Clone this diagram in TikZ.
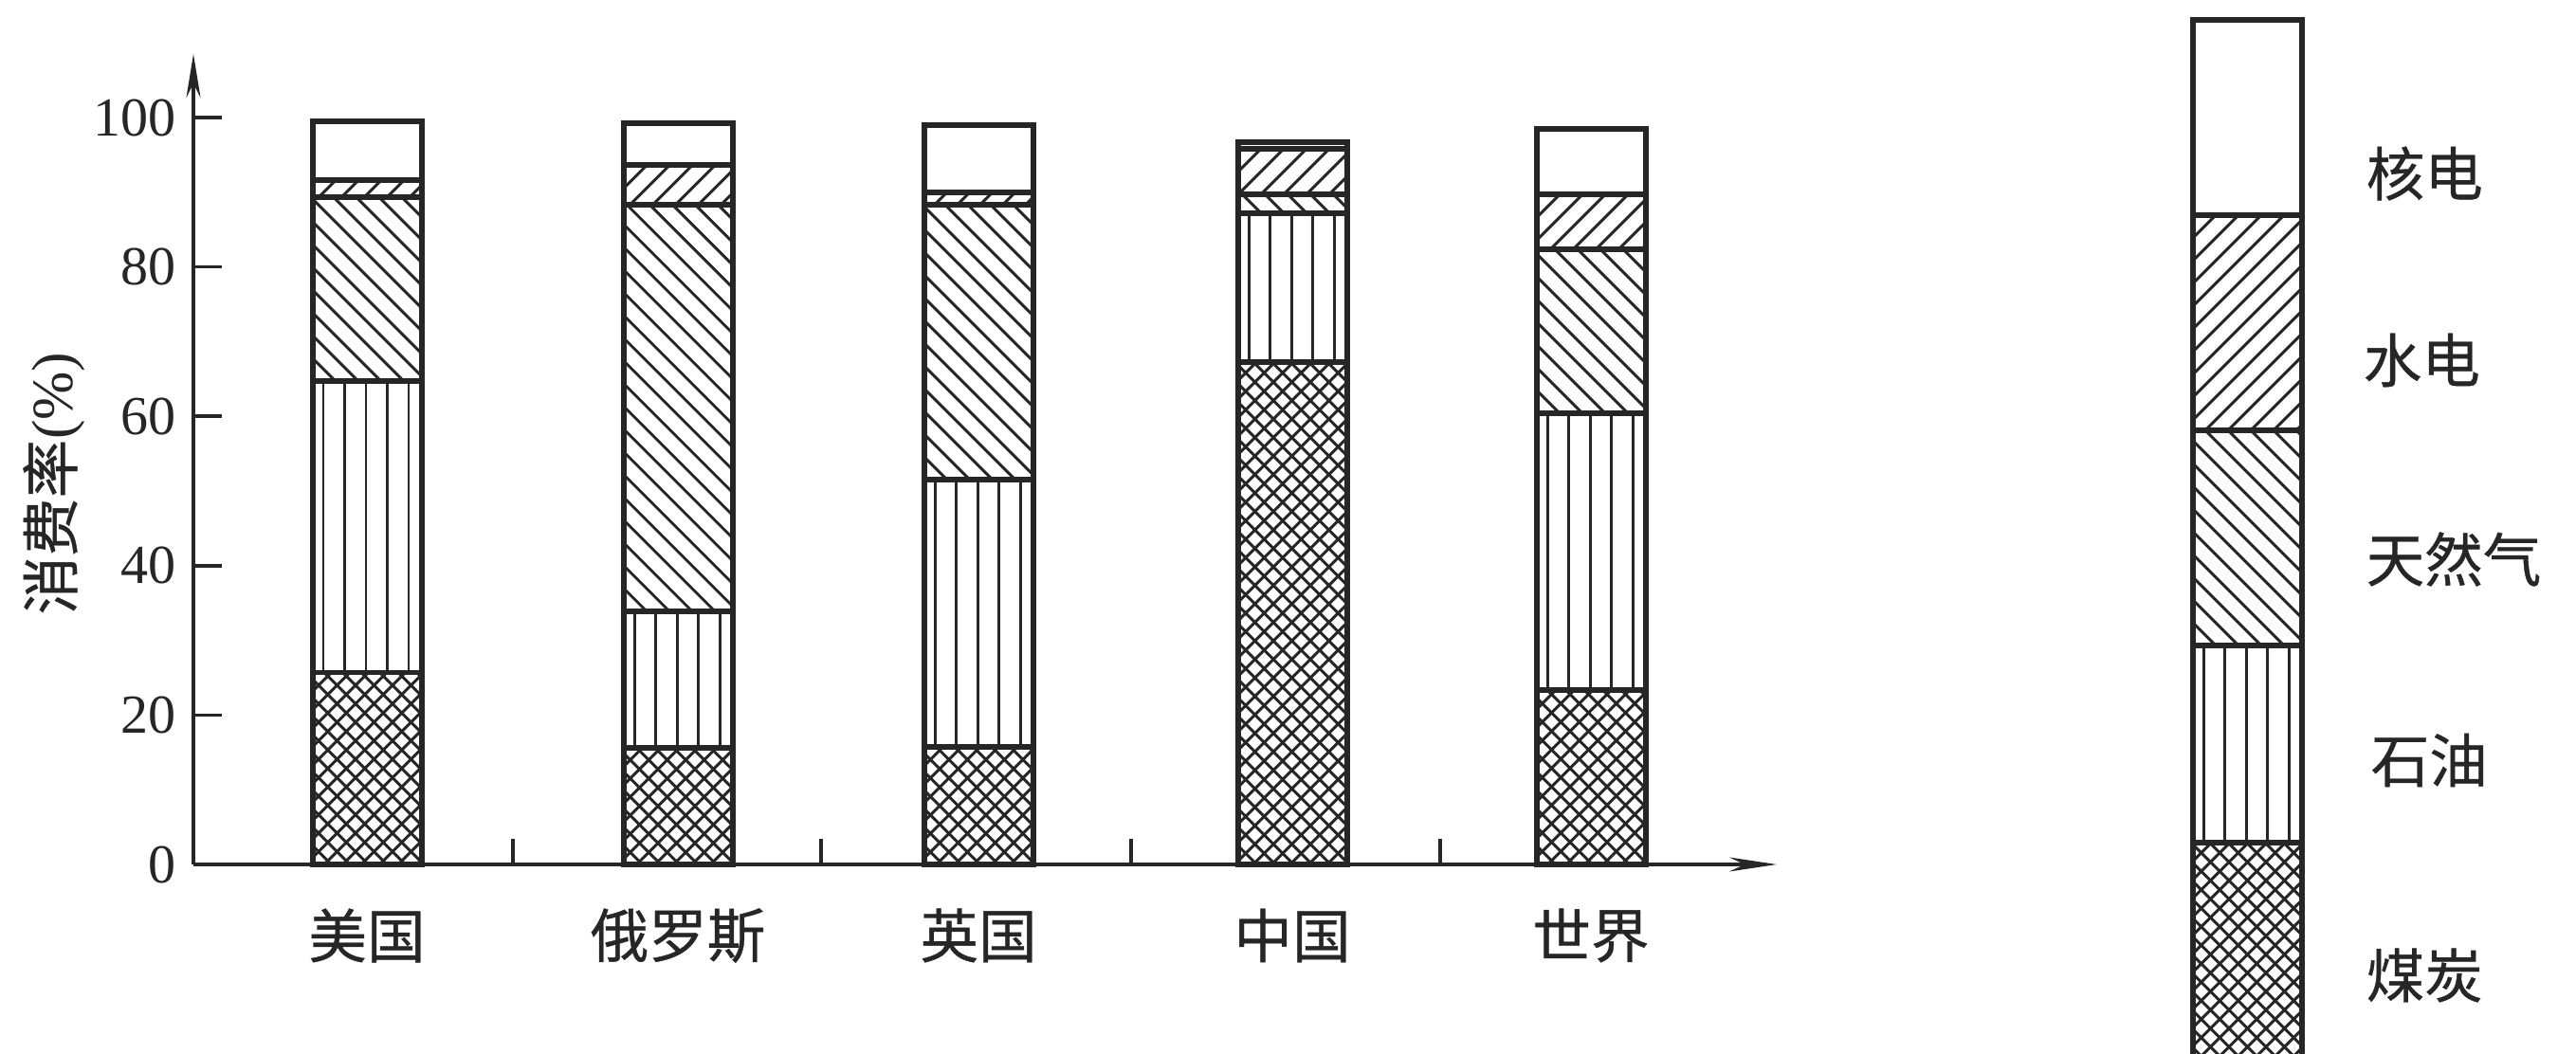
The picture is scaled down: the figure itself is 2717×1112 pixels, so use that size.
\documentclass[tikz,border=0pt]{standalone}
\usepackage{fontspec}
\setmainfont{Liberation Serif}
\newfontfamily\cjk{Noto Sans CJK SC}[FakeBold=0.6]
\usetikzlibrary{arrows.meta}

\def\barw{115}
% diagonal hatch: #1 x, #2 y top, #3 y bottom, #4 period, #5 direction (1 = \, -1 = /)
\newcommand\diagfill[5]{%
  \begin{scope}
    \clip (#1,#2) rectangle ({#1+\barw},#3);
    \pgfmathsetmacro\segh{#3-#2}
    \pgfmathtruncatemacro\nlines{(\barw+\segh)/#4+1}
    \foreach \k in {0,...,\nlines}
      \draw[hatch] ({#1-\segh+\k*#4},{(#2+#3)/2-(#5)*\segh/2}) -- ++(\segh,{(#5)*\segh});
  \end{scope}}
% vertical hatch
\newcommand\vertfill[3]{%
  \foreach \k in {0,...,4}
    \draw[hatch] ({#1+11+\k*22.5},#2) -- ({#1+11+\k*22.5},#3);}
\newcommand\coalfill[3]{\diagfill{#1}{#2}{#3}{19.5}{1}\diagfill{#1}{#2}{#3}{19.5}{-1}}
\newcommand\gasfill[3]{\diagfill{#1}{#2}{#3}{24}{1}}
\newcommand\hydrofill[3]{\diagfill{#1}{#2}{#3}{24}{-1}}
% one bar: #1 x, then cumulative tops in %: coal, oil, gas, hydro, total
\newcommand\energybar[6]{%
  \pgfmathsetmacro\yc{912-7.88*#2}
  \pgfmathsetmacro\yo{912-7.88*#3}
  \pgfmathsetmacro\yg{912-7.88*#4}
  \pgfmathsetmacro\yh{912-7.88*#5}
  \pgfmathsetmacro\yt{912-7.88*#6}
  \coalfill{#1}{\yc}{912}
  \vertfill{#1}{\yo}{\yc}
  \gasfill{#1}{\yg}{\yo}
  \hydrofill{#1}{\yh}{\yg}
  \draw[barframe] (#1,\yt) rectangle ({#1+\barw},912);
  \foreach \yy in {\yc,\yo,\yg,\yh}
    \draw[barframe] (#1,\yy) -- ({#1+\barw},\yy);}

\begin{document}
\begin{tikzpicture}[x=0.01cm,y=0.01cm,yscale=-1,
    hatch/.style={line width=0.85pt,draw=black!85},
    barframe/.style={line width=1.7pt,draw=black!85},
    axis/.style={line width=1pt,draw=black!85},
    num/.style={font=\fontsize{16.5}{18}\selectfont,inner sep=0pt,text=black!85},
    cn/.style={font=\cjk\fontsize{17.5}{20}\selectfont,inner sep=0pt,text=black!85}]
  \clip (0,0) rectangle (2717,1112);

  % Bars
  \energybar{330}{25.7}{64.7}{89.3}{91.6}{99.5}
  \energybar{658}{15.6}{33.9}{88.3}{93.6}{99.3}
  \energybar{975}{15.7}{51.5}{88.3}{90.0}{99.0}
  \energybar{1306}{67.3}{87.2}{89.7}{95.8}{96.7}
  \energybar{1621}{23.3}{60.4}{82.3}{89.7}{98.5}

  % Axes
  \coordinate (o) at (204,912);
  \coordinate (ytip) at (204,57);
  \coordinate (xtip) at (1874,912);
  \draw[axis,-{Stealth[length=0.46cm,width=0.15cm]}] (o) -- (ytip);
  \draw[axis,-{Stealth[length=0.5cm,width=0.15cm]}] (o) -- (xtip);
  \foreach \v in {20,40,...,100}
    \draw[axis] (204,{912-7.88*\v}) -- (234,{912-7.88*\v});
  \foreach \xx in {541,866,1193,1519}
    \draw[axis] (\xx,912) -- (\xx,885);

  % Legend bar
  \coalfill{2313}{889}{1125}
  \vertfill{2313}{681}{889}
  \gasfill{2313}{454}{681}
  \hydrofill{2313}{227}{454}
  \draw[barframe] (2313,1125) -- (2313,21) -- (2428,21) -- (2428,1125);
  \foreach \yy in {227,454,681,889}
    \draw[barframe] (2313,\yy) -- (2428,\yy);

  % Text Node
  \foreach \v in {0,20,...,100}
    \node[num,anchor=east] (n\v) at (186,{912-7.88*\v}) {\v};
  \node[cn,rotate=90] (ylabel) at (57,510) {消费率\rmfamily(\%)};
  \node[cn] (usa) at (387,987) {美国};
  \node[cn] (russia) at (715,987) {俄罗斯};
  \node[cn] (uk) at (1032,987) {英国};
  \node[cn] (china) at (1363,987) {中国};
  \node[cn] (world) at (1678,987) {世界};
  \node[cn,anchor=west] (nuclear) at (2495,183) {核电};
  \node[cn,anchor=west] (hydro) at (2492,380) {水电};
  \node[cn,anchor=west] (gas) at (2495,590) {天然气};
  \node[cn,anchor=west] (oil) at (2500,802) {石油};
  \node[cn,anchor=west] (coal) at (2495,1029) {煤炭};
\end{tikzpicture}
\end{document}
